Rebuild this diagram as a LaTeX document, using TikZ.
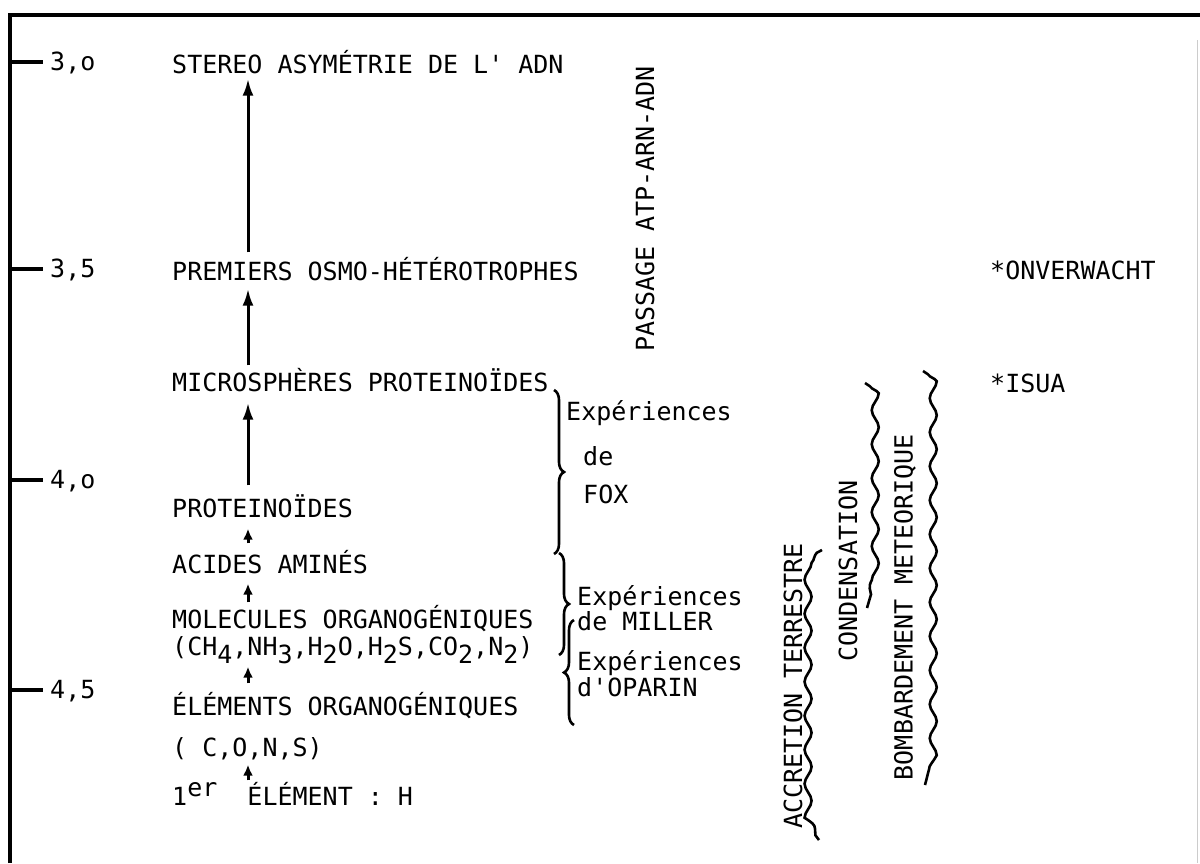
\documentclass[tikz,border=0pt]{standalone}
\usepackage{fontspec}
\setmonofont{DejaVu Sans Mono}
\usetikzlibrary{arrows.meta,decorations.pathreplacing,decorations.pathmorphing}
\newcommand\lowsub[1]{\raisebox{-8pt}{#1}}

\begin{document}
\begin{tikzpicture}[x=1pt, y=-1pt,
    lbl/.style={font=\ttfamily\fontsize{25}{25}\selectfont, inner sep=0pt, anchor=base west, text height=18pt, text depth=1pt},
    vlbl/.style={font=\ttfamily\fontsize{25}{25}\selectfont, inner sep=0pt, rotate=90},
    bigup/.style={-{Latex[length=17pt,width=11pt]}, line width=3pt},
    smallup/.style={-{Latex[length=11pt,width=10pt]}, line width=3pt},
    cbrace/.style={decorate, decoration={brace, amplitude=10pt}, line width=2.6pt},
    wavy/.style={decorate, decoration={snake, amplitude=3.5pt, segment length=34pt, pre length=6pt, post length=6pt}, line width=2.6pt}]
    \useasboundingbox (0,0) rectangle (1200,863);

    % Frame
    \draw[line width=3.2pt] (10,863) -- (10,15) -- (1200,15);
    \draw[black!20, thin] (1197,40) -- (1197,863);

    % Time scale
    \foreach \y/\t in {62/{3,o}, 269/{3,5}, 480/{4,o}, 690/{4,5}} {
        \draw[line width=3.2pt] (10,\y) -- (43,\y);
        \node[lbl] at (50,\y+8.5) {\t};
    }

    % Main column
    \coordinate (stem) at (248,0);
    \node[lbl] (stereo) at (172,73.5) {STEREO ASYMÉTRIE DE L' ADN};
    \node[lbl] (premiers) at (172,280.5) {PREMIERS OSMO-HÉTÉROTROPHES};
    \node[lbl] (micro) at (172,391.5) {MICROSPHÈRES PROTEINOÏDES};
    \node[lbl] (proteinoides) at (172,517.5) {PROTEINOÏDES};
    \node[lbl] (acides) at (172,573.5) {ACIDES AMINÉS};
    \node[lbl] (molecules) at (172,628.5) {MOLECULES ORGANOGÉNIQUES};
    \node[lbl] (formules) at (172,655.5) {(CH\lowsub{4},NH\lowsub{3},H\lowsub{2}O,H\lowsub{2}S,CO\lowsub{2},N\lowsub{2})};
    \node[lbl] (elements) at (172,715.5) {ÉLÉMENTS ORGANOGÉNIQUES};
    \node[lbl] (cons) at (172,756.5) {( C,O,N,S)};
    \node[lbl] (premier) at (172,805.5) {1\raisebox{9pt}{er}\ \ ÉLÉMENT : H};

    \foreach \a/\b/\s/\e in {premiers/stereo/10/4, micro/premiers/8/7, proteinoides/micro/14/10} {
        \draw[bigup, shorten <=\s pt, shorten >=\e pt] (\a.north -| stem) -- (\b.south -| stem);
    }
    \foreach \a/\b/\s/\e in {acides/proteinoides/12/10, molecules/acides/8/9, elements/formules/14/10, premier/cons/7/7} {
        \draw[smallup, shorten <=\s pt, shorten >=\e pt] (\a.north -| stem) -- (\b.south -| stem);
    }

    % Experiences
    \draw[cbrace] (554,390) -- (554,554);
    \node[lbl] (fox1) at (566,420) {Expériences};
    \node[lbl] (fox2) at (583,465) {de};
    \node[lbl] (fox3) at (583,503) {FOX};

    \draw[cbrace] (559,553) -- (559,655);
    \node[lbl] (miller1) at (577,605) {Expériences};
    \node[lbl] (miller2) at (577,630) {de MILLER};

    \draw[cbrace, decoration={mirror}] (574,620) -- (574,725);
    \node[lbl] (oparin1) at (577,670) {Expériences};
    \node[lbl] (oparin2) at (577,696) {d'OPARIN};

    % Vertical labels
    \node[vlbl] (passage) at (645,209) {PASSAGE ATP-ARN-ADN};
    \node[vlbl] (accretion) at (793,686) {ACCRETION TERRESTRE};
    \node[vlbl] (condensation) at (848,571) {CONDENSATION};
    \node[vlbl] (bombardement) at (905,607) {BOMBARDEMENT METEORIQUE};

    \draw[wavy] (822,550) .. controls (815,553) .. (815,564) -- (815,828) .. controls (815,836) .. (819,840);
    \draw[wavy] (865,383) .. controls (871,386) .. (871,396) -- (871,598) .. controls (871,605) .. (867,608);
    \draw[wavy] (923,371) .. controls (929,374) .. (929,384) -- (929,774) .. controls (929,782) .. (925,785);

    % Sites
    \node[lbl] (onverwacht) at (990,279) {*ONVERWACHT};
    \node[lbl] (isua) at (990,392) {*ISUA};
\end{tikzpicture}
\end{document}
